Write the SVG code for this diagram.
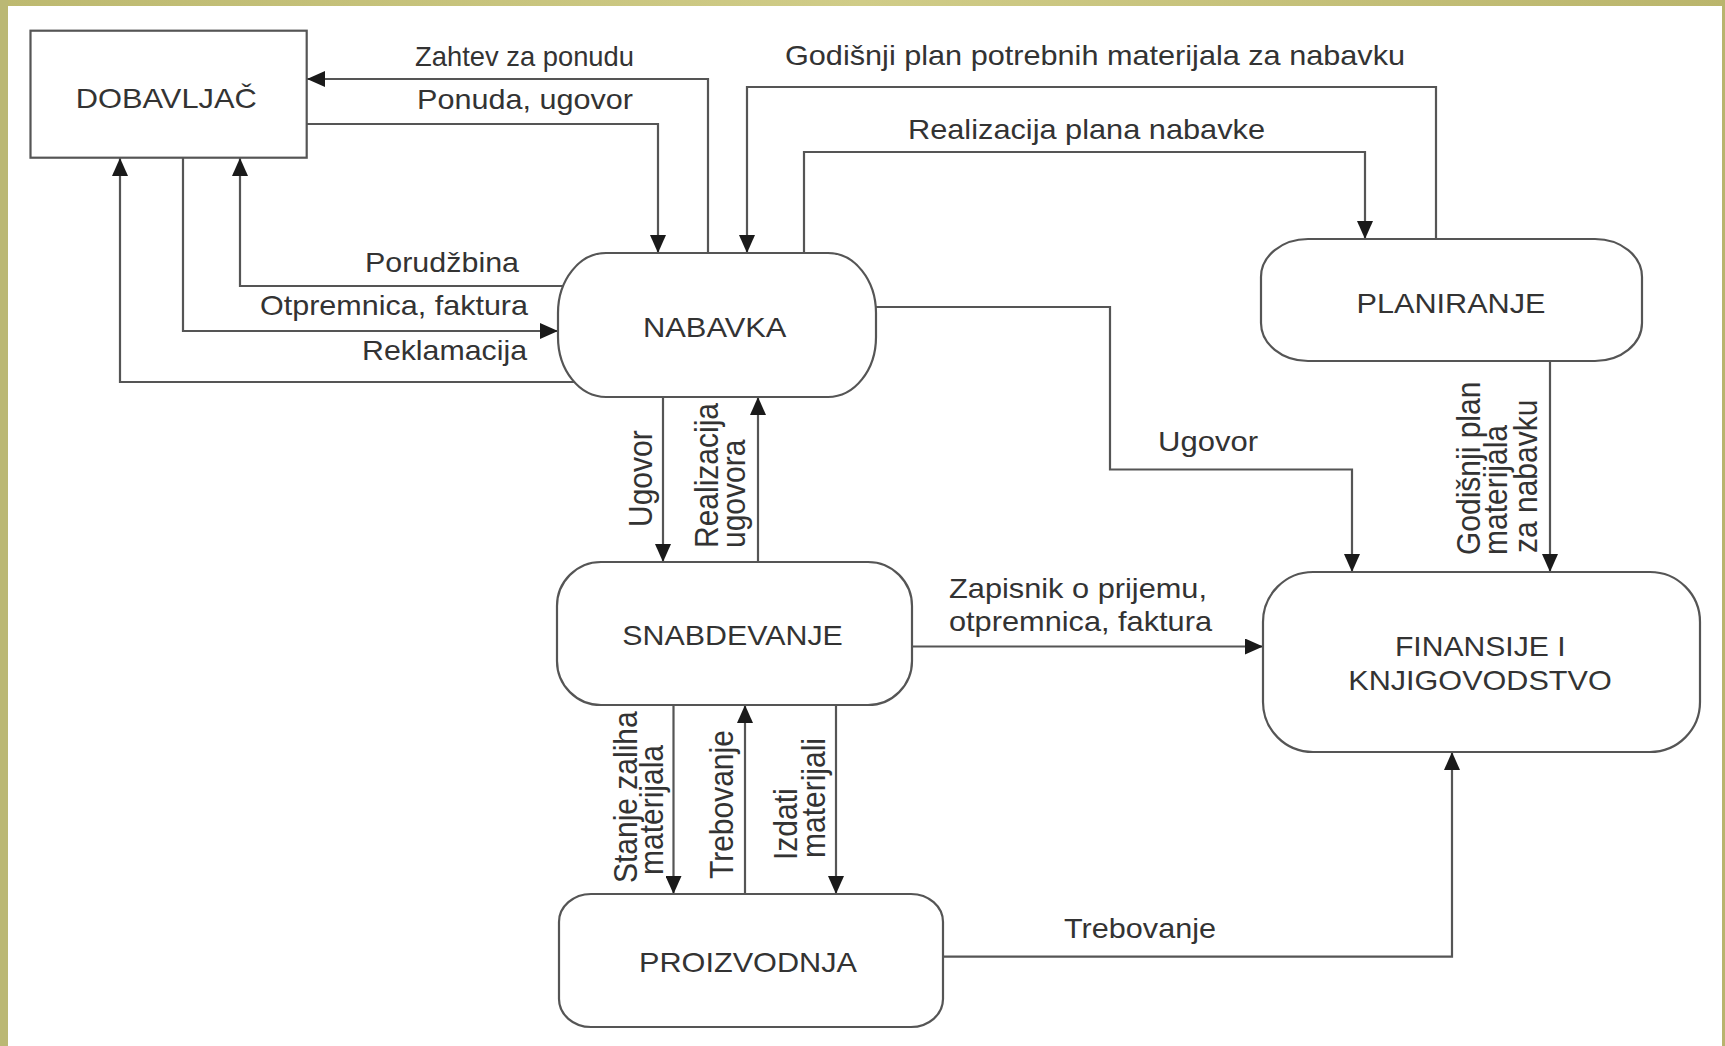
<svg xmlns="http://www.w3.org/2000/svg" width="1725" height="1046" viewBox="0 0 1725 1046">
  <style>
    .node { fill: #ffffff; stroke: #555555; stroke-width: 2.2; }
    .nlabel { font-family: "Liberation Sans", Arial, sans-serif; font-size: 28px; fill: #333333; text-anchor: middle; }
    .flow { fill: none; stroke: #555555; stroke-width: 2.2; }
    .arrow { marker-end: url(#head); }
    .elabel { font-family: "Liberation Sans", Arial, sans-serif; font-size: 28px; fill: #333333; }
    .vlabel { font-family: "Liberation Sans", Arial, sans-serif; font-size: 30px; fill: #333333; }
  </style>
  <defs>
    <marker id="head" markerUnits="userSpaceOnUse" markerWidth="18" markerHeight="16" refX="18" refY="8" orient="auto">
      <path d="M0,0 L18,8 L0,16 Z" fill="#1a1a1a"/>
    </marker>
    <linearGradient id="band" x1="0" y1="0" x2="1" y2="0">
      <stop offset="0" stop-color="#bdb970"/>
      <stop offset="0.5" stop-color="#d0cc88"/>
      <stop offset="1" stop-color="#bab56c"/>
    </linearGradient>
  </defs>

  <!-- page background and frame -->
  <rect x="0" y="0" width="1725" height="1046" fill="#ffffff"/>
  <rect x="0" y="0" width="1725" height="6" fill="url(#band)"/>
  <rect x="0" y="0" width="8" height="1046" fill="#bbb874"/>
  <rect x="1722" y="0" width="3" height="1046" fill="#b8b46e"/>

  <!-- connectors -->
  <g id="connectors">
    <path class="flow arrow" d="M708,253 V79 H307"/>
    <path class="flow arrow" d="M307,124 H658 V253"/>
    <path class="flow arrow" d="M1436,239 V87 H747 V253"/>
    <path class="flow arrow" d="M804,253 V152 H1365 V239"/>
    <path class="flow arrow" d="M566,286 H240 V158"/>
    <path class="flow arrow" d="M183,158 V331 H558"/>
    <path class="flow arrow" d="M574,382 H120 V158"/>
    <path class="flow arrow" d="M876,307 H1110 V469.5 H1352 V572"/>
    <path class="flow arrow" d="M663,397 V562"/>
    <path class="flow arrow" d="M758,562 V397"/>
    <path class="flow arrow" d="M912,646.5 H1263"/>
    <path class="flow arrow" d="M1550,361 V572"/>
    <path class="flow arrow" d="M673.5,705 V894"/>
    <path class="flow arrow" d="M745,894 V705"/>
    <path class="flow arrow" d="M836,705 V894"/>
    <path class="flow arrow" d="M943,956.7 H1452 V752"/>

    <!-- horizontal flow labels -->
    <text class="elabel" x="415" y="66" textLength="219" lengthAdjust="spacingAndGlyphs">Zahtev za ponudu</text>
    <text class="elabel" x="417" y="109" textLength="216" lengthAdjust="spacingAndGlyphs">Ponuda, ugovor</text>
    <text class="elabel" x="785" y="65" textLength="620" lengthAdjust="spacingAndGlyphs">Godišnji plan potrebnih materijala za nabavku</text>
    <text class="elabel" x="908" y="139" textLength="357" lengthAdjust="spacingAndGlyphs">Realizacija plana nabavke</text>
    <text class="elabel" x="365" y="272" textLength="154" lengthAdjust="spacingAndGlyphs">Porudžbina</text>
    <text class="elabel" x="260" y="315" textLength="268" lengthAdjust="spacingAndGlyphs">Otpremnica, faktura</text>
    <text class="elabel" x="362" y="360" textLength="165" lengthAdjust="spacingAndGlyphs">Reklamacija</text>
    <text class="elabel" x="1158" y="451" textLength="100" lengthAdjust="spacingAndGlyphs">Ugovor</text>
    <text class="elabel" x="949" y="598" textLength="258" lengthAdjust="spacingAndGlyphs">Zapisnik o prijemu,</text>
    <text class="elabel" x="949" y="631" textLength="263" lengthAdjust="spacingAndGlyphs">otpremnica, faktura</text>
    <text class="elabel" x="1064" y="938" textLength="152" lengthAdjust="spacingAndGlyphs">Trebovanje</text>

    <!-- vertical flow labels -->
    <text class="vlabel" transform="translate(651.7,527) scale(1.1,1) rotate(-90)">Ugovor</text>
    <text class="vlabel" transform="translate(718,548) scale(1.1,1) rotate(-90)">Realizacija</text>
    <text class="vlabel" transform="translate(745,548) scale(1.1,1) rotate(-90)">ugovora</text>
    <text class="vlabel" transform="translate(1480,555) scale(1.1,1) rotate(-90)">Godišnji plan</text>
    <text class="vlabel" transform="translate(1507,555) scale(1.1,1) rotate(-90)">materijala</text>
    <text class="vlabel" transform="translate(1537,553) scale(1.1,1) rotate(-90)">za nabavku</text>
    <text class="vlabel" transform="translate(637,883) scale(1.1,1) rotate(-90)">Stanje zaliha</text>
    <text class="vlabel" transform="translate(663,875) scale(1.1,1) rotate(-90)">materijala</text>
    <text class="vlabel" transform="translate(733,879) scale(1.1,1) rotate(-90)">Trebovanje</text>
    <text class="vlabel" transform="translate(797,860) scale(1.1,1) rotate(-90)">Izdati</text>
    <text class="vlabel" transform="translate(825,858) scale(1.1,1) rotate(-90)">materijali</text>
  </g>

  <!-- nodes -->
  <g id="dobavljac">
    <rect class="node" x="30.5" y="30.7" width="276.2" height="127"/>
    <text class="nlabel" x="166.3" y="108.3" textLength="181" lengthAdjust="spacingAndGlyphs">DOBAVLJAČ</text>
  </g>
  <g id="nabavka">
    <rect class="node" x="558" y="253" width="318" height="144" rx="48" ry="60"/>
    <text class="nlabel" x="714.7" y="337" textLength="143.5" lengthAdjust="spacingAndGlyphs">NABAVKA</text>
  </g>
  <g id="planiranje">
    <rect class="node" x="1261" y="239" width="381" height="122" rx="47" ry="38"/>
    <text class="nlabel" x="1451" y="313.3" textLength="189" lengthAdjust="spacingAndGlyphs">PLANIRANJE</text>
  </g>
  <g id="snabdevanje">
    <rect class="node" x="557" y="562" width="355" height="143" rx="44" ry="44"/>
    <text class="nlabel" x="732.6" y="645" textLength="220.5" lengthAdjust="spacingAndGlyphs">SNABDEVANJE</text>
  </g>
  <g id="finansije">
    <rect class="node" x="1263" y="572" width="437" height="180" rx="50" ry="50"/>
    <text class="nlabel" x="1480.3" y="656" textLength="170.7" lengthAdjust="spacingAndGlyphs">FINANSIJE I</text>
    <text class="nlabel" x="1480" y="690" textLength="263.4" lengthAdjust="spacingAndGlyphs">KNJIGOVODSTVO</text>
  </g>
  <g id="proizvodnja">
    <rect class="node" x="559" y="894" width="384" height="133" rx="32" ry="28"/>
    <text class="nlabel" x="748" y="971.7" textLength="218" lengthAdjust="spacingAndGlyphs">PROIZVODNJA</text>
  </g>
</svg>
